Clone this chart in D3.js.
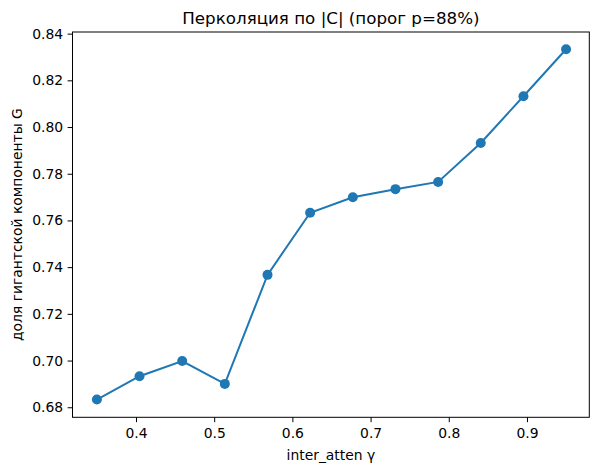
<!DOCTYPE html>
<html><head><meta charset="utf-8">
<script src="https://cdn.jsdelivr.net/npm/d3@7"></script>
<style>body{margin:0;background:#fff}svg{display:block}text{font-family:"DejaVu Sans",sans-serif;fill:#000}</style>
</head><body>
<svg id="c" width="600" height="472"></svg>
<script>
const gammaValues = [0.35, 0.4045, 0.4591, 0.5136, 0.5682, 0.6227, 0.6773, 0.7318, 0.7864, 0.8409, 0.8955, 0.95];
const gValues = [0.6833, 0.6933, 0.6998, 0.6900, 0.7367, 0.7633, 0.7699, 0.7734, 0.7765, 0.7932, 0.8132, 0.8333];
const xTicks = [0.4, 0.5, 0.6, 0.7, 0.8, 0.9];
const yTicks = [0.68, 0.70, 0.72, 0.74, 0.76, 0.78, 0.80, 0.82, 0.84];
const titleText = "Перколяция по |C| (порог p=88%)";
const xLabel = "inter_atten γ";
const yLabel = "доля гигантской компоненты G";

const L = 72.5, R = 589.3, T = 32, B = 417.3;
const svg = d3.select("#c");
const x = d3.scaleLinear().domain([0.3188, 0.9797]).range([L, R]);
const y = d3.scaleLinear().domain([0.6757, 0.8407]).range([B, T]);

const xa = svg.append("g").attr("transform", `translate(0,${B})`)
  .call(d3.axisBottom(x).tickValues(xTicks).tickFormat(d3.format(".1f")).tickSize(4.9).tickPadding(4.5));
const ya = svg.append("g").attr("transform", `translate(${L},0)`)
  .call(d3.axisLeft(y).tickValues(yTicks).tickFormat(d3.format(".2f")).tickSize(4.9).tickPadding(4.5));
[xa, ya].forEach(a => {
  a.select(".domain").remove();
  a.selectAll("text").style("font-size", "13.9px").style("fill", "#000");
  a.selectAll("line").attr("stroke", "#000").attr("stroke-width", 1);
});
xa.selectAll("text").attr("dy", "0.8em");

svg.append("rect").attr("x", L).attr("y", T).attr("width", R - L).attr("height", B - T)
  .attr("fill", "none").attr("stroke", "#000").attr("stroke-width", 1);

const pts = gammaValues.map((g, i) => [g, gValues[i]]);
svg.append("path").datum(pts)
  .attr("d", d3.line().x(d => x(d[0])).y(d => y(d[1])))
  .attr("fill", "none").attr("stroke", "#1f77b4").attr("stroke-width", 2);
svg.selectAll("circle.pt").data(pts).enter().append("circle")
  .attr("cx", d => x(d[0])).attr("cy", d => y(d[1])).attr("r", 5)
  .attr("fill", "#1f77b4");

svg.append("text").attr("x", (L + R) / 2).attr("y", 24).attr("text-anchor", "middle")
  .style("font-size", "16.7px").text(titleText);
svg.append("text").attr("x", (L + R) / 2).attr("y", 460).attr("text-anchor", "middle")
  .style("font-size", "13.9px").text(xLabel);
svg.append("text").attr("transform", `translate(22,${(T + B) / 2}) rotate(-90)`)
  .attr("text-anchor", "middle").style("font-size", "13.9px").text(yLabel);
</script>
</body></html>
